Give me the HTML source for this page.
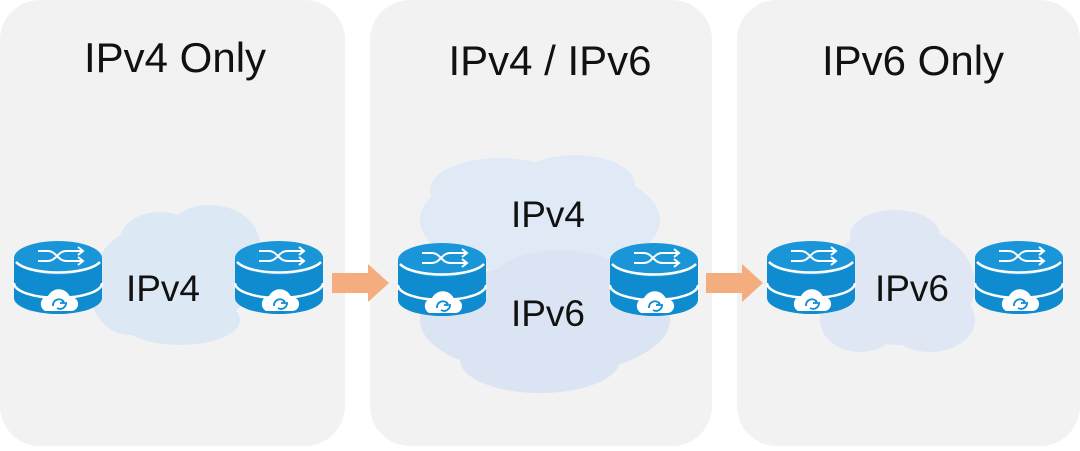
<!DOCTYPE html>
<html><head><style>
body{margin:0;background:#fff;width:1080px;height:446px;overflow:hidden;font-family:"Liberation Sans",sans-serif}
</style></head><body>
<svg width="1080" height="446" viewBox="0 0 1080 446" xmlns="http://www.w3.org/2000/svg">
<defs>
<g id="r">
 <path d="M0,18 L0,58 A44,16 0 0 0 88,58 L88,18 Z" fill="#0f8bd0"/>
 <ellipse cx="44" cy="18" rx="44" ry="17" fill="#1a96d8"/>
 <path d="M2,22 A44,15 0 0 0 86,22" fill="none" stroke="#fff" stroke-width="2.5"/>
 <path d="M0,43 A44,15 0 0 0 88,43" fill="none" stroke="#fff" stroke-width="2.5"/>
 <path d="M24,11 h10 c8,0 10,10 18,10 h16 M24,21 h10 c8,0 10,-10 18,-10 h16" fill="none" stroke="#fff" stroke-width="2"/>
 <path d="M64,7 l5,4 l-5,4 M64,17 l5,4 l-5,4" fill="none" stroke="#fff" stroke-width="2"/>
 <path d="M31,71 a8,8 0 0 1 3,-15 a12,12 0 0 1 22,1 a7,7 0 0 1 2,14 Z" fill="#fff"/>
 <path d="M39,66 a6,6 0 0 1 11,-4 M48,60 l2,3 l-4,0 M52,62 a6,6 0 0 1 -9,6" fill="none" stroke="#0f8bd0" stroke-width="1.8"/>
</g>
</defs>
<rect x="0" y="0" width="345" height="446" rx="40" fill="#f2f2f2"/>
<rect x="370" y="0" width="342" height="446" rx="40" fill="#f2f2f2"/>
<rect x="737" y="0" width="343" height="446" rx="40" fill="#f2f2f2"/>
<g fill="#dce9f5">
 <ellipse cx="175" cy="275" rx="80" ry="55"/><ellipse cx="160" cy="240" rx="40" ry="28"/><ellipse cx="210" cy="245" rx="50" ry="40"/><ellipse cx="130" cy="290" rx="40" ry="45"/><ellipse cx="180" cy="320" rx="60" ry="25"/>
</g>
<g fill="#dfeaf6">
 <ellipse cx="540" cy="220" rx="120" ry="55"/><ellipse cx="500" cy="190" rx="70" ry="32"/><ellipse cx="575" cy="185" rx="60" ry="30"/>
</g>
<g fill="#dbe4f2">
 <ellipse cx="545" cy="320" rx="125" ry="55"/><ellipse cx="560" cy="285" rx="70" ry="35"/><ellipse cx="540" cy="360" rx="80" ry="33"/>
</g>
<g fill="#dfe6f4">
 <ellipse cx="900" cy="285" rx="75" ry="60"/><ellipse cx="895" cy="235" rx="45" ry="25"/><ellipse cx="860" cy="320" rx="40" ry="32"/><ellipse cx="930" cy="320" rx="45" ry="32"/>
</g>
<g fill="#f4ad7e">
 <rect x="332" y="273" width="38" height="20"/><path d="M368,264 L389,283 L368,302Z"/>
 <rect x="706" y="273" width="38" height="20"/><path d="M742,264 L763,283 L742,302Z"/>
</g>
<use href="#r" x="14" y="240"/><use href="#r" x="235" y="240"/>
<use href="#r" x="398" y="242"/><use href="#r" x="610" y="242"/>
<use href="#r" x="767" y="240"/><use href="#r" x="975" y="240"/>
<g font-size="42" fill="#111" text-anchor="middle">
 <text x="175" y="72">IPv4 Only</text>
 <text x="550" y="75">IPv4 / IPv6</text>
 <text x="913" y="75">IPv6 Only</text>
</g>
<g font-size="37" fill="#111" text-anchor="middle">
 <text x="163" y="301">IPv4</text>
 <text x="548" y="227">IPv4</text>
 <text x="548" y="326">IPv6</text>
 <text x="912" y="301">IPv6</text>
</g>
</svg>
</body></html>
